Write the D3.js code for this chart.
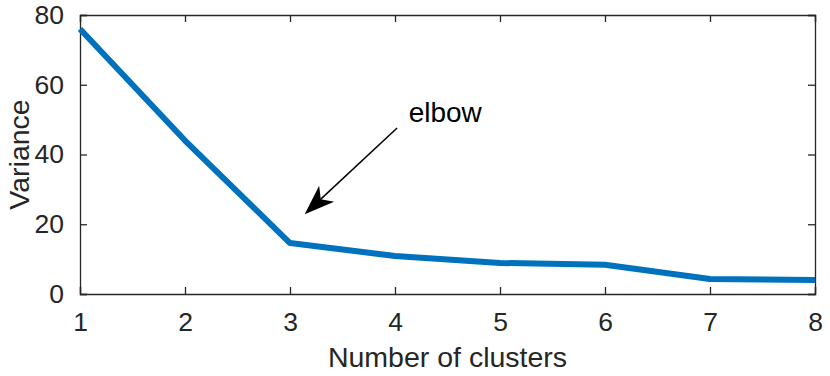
<!DOCTYPE html>
<html>
<head>
<meta charset="utf-8">
<script src="https://cdn.jsdelivr.net/npm/d3@7"></script>
<style>
  body { margin: 0; background: #fff; }
  svg { display: block; font-family: "Liberation Sans", Arial, sans-serif; }
</style>
</head>
<body>
<svg id="chart" width="830" height="376"></svg>
<script>
const width = 830, height = 376;
const margin = { top: 15, right: 15, bottom: 82, left: 80 };

// Elbow curve values
const clusters = [1, 2, 3, 4, 5, 6, 7, 8];
const variance = [76, 44, 14.6, 10.9, 8.9, 8.4, 4.3, 4.0];
const yTicks = [0, 20, 40, 60, 80];

// Annotation (in data units)
const arrowFrom = [4.02, 47.6], arrowTo = [3.14, 22.9];
const noteAt = [4.13, 49.2], noteText = "elbow";

const svg = d3.select("#chart");
const axisColor = "#262626";

const x = d3.scaleLinear().domain([1, 8]).range([margin.left, width - margin.right]);
const y = d3.scaleLinear().domain([0, 80]).range([height - margin.bottom, margin.top]);

const x0 = x.range()[0], x1 = x.range()[1];
const y0 = y.range()[0], y1 = y.range()[1];
const tickLen = 7;

// axes: MATLAB style box with inward ticks on all sides
const gBottom = svg.append("g").attr("transform", `translate(0,${y0})`)
    .call(d3.axisBottom(x).tickValues(clusters).tickFormat(d3.format("d")).tickSize(-tickLen).tickPadding(18));
const gTop = svg.append("g").attr("transform", `translate(0,${y1})`)
    .call(d3.axisTop(x).tickValues(clusters).tickFormat("").tickSize(-tickLen));
const gLeft = svg.append("g").attr("transform", `translate(${x0},0)`)
    .call(d3.axisLeft(y).tickValues(yTicks).tickSize(-tickLen).tickPadding(16));
const gRight = svg.append("g").attr("transform", `translate(${x1},0)`)
    .call(d3.axisRight(y).tickValues(yTicks).tickFormat("").tickSize(-tickLen));

[gBottom, gTop, gLeft, gRight].forEach(g => {
    g.select(".domain").attr("stroke", axisColor).attr("stroke-width", 1.3);
    g.selectAll(".tick line").attr("stroke", axisColor).attr("stroke-width", 1.3);
    g.selectAll(".tick text").attr("fill", axisColor).style("font-size", "26.5px");
});

// line
svg.append("path")
    .datum(clusters.map((c, i) => [c, variance[i]]))
    .attr("fill", "none")
    .attr("stroke", "#0072BD")
    .attr("stroke-width", 6)
    .attr("stroke-linejoin", "round")
    .attr("d", d3.line().x(d => x(d[0])).y(d => y(d[1])));

// axis labels
svg.append("text")
    .attr("x", (x0 + x1) / 2).attr("y", 367)
    .attr("text-anchor", "middle").attr("fill", axisColor)
    .style("font-size", "28.5px")
    .text("Number of clusters");

svg.append("text")
    .attr("transform", `translate(29,${(y0 + y1) / 2}) rotate(-90)`)
    .attr("text-anchor", "middle").attr("fill", axisColor)
    .style("font-size", "28.5px")
    .text("Variance");

// arrow annotation
const ax = x(arrowTo[0]), ay = y(arrowTo[1]);
const bx = x(arrowFrom[0]), by = y(arrowFrom[1]);
const ang = Math.atan2(by - ay, bx - ax);
const headLen = 30, headW = 11, notch = 22;
const pt = (d, off) => [ax + d * Math.cos(ang) - off * Math.sin(ang), ay + d * Math.sin(ang) + off * Math.cos(ang)];

svg.append("line")
    .attr("x1", bx).attr("y1", by)
    .attr("x2", pt(notch, 0)[0]).attr("y2", pt(notch, 0)[1])
    .attr("stroke", "#000").attr("stroke-width", 1.5);

svg.append("path")
    .attr("d", "M" + [[ax, ay], pt(headLen, headW), pt(notch, 0), pt(headLen, -headW)].join("L") + "Z")
    .attr("fill", "#000");

svg.append("text")
    .attr("x", x(noteAt[0])).attr("y", y(noteAt[1]))
    .attr("fill", "#000")
    .style("font-size", "28px")
    .text(noteText);
</script>
</body>
</html>
